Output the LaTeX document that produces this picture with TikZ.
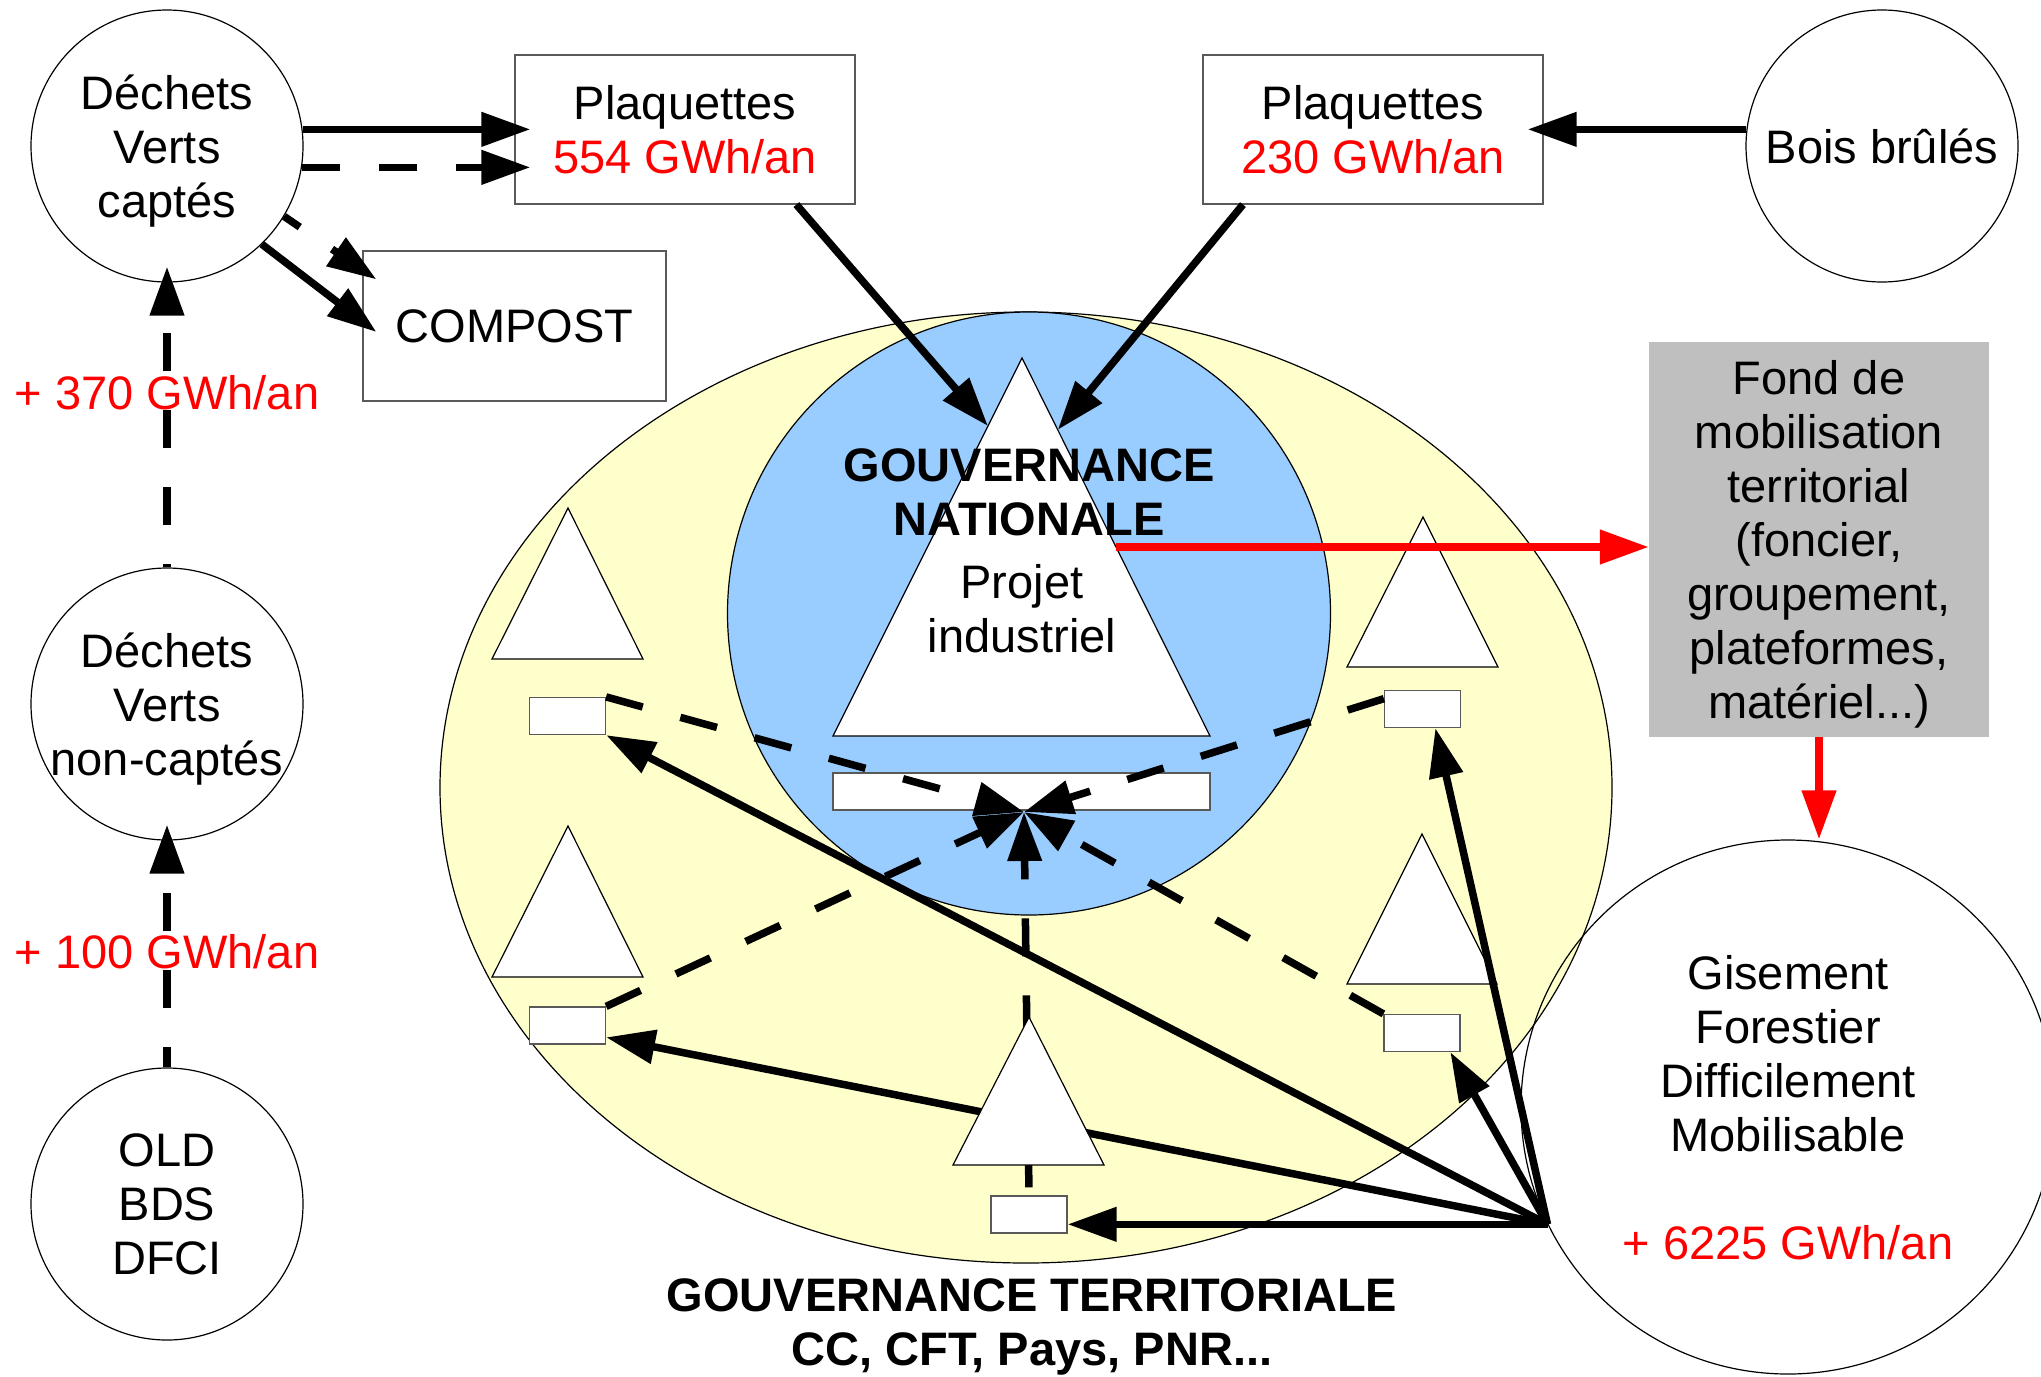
\documentclass[tikz,border=0pt]{standalone}
\usepackage{fontspec}
\setmainfont{Liberation Sans}
\usepackage{tikz}
\usetikzlibrary{shapes.geometric, arrows.meta, calc}
\definecolor{jaune}{RGB}{255,255,204}
\definecolor{bleu}{RGB}{153,204,255}
\definecolor{gris}{RGB}{191,191,191}
\tikzstyle{rond} = [draw, circle, line width=1.2pt, minimum size=272pt, inner sep=0pt, align=center, text depth=0pt]
\tikzstyle{boite} = [draw=black!65, rectangle, line width=1.2pt, minimum width=340pt, minimum height=149pt, align=center]
\tikzstyle{bloc} = [draw=black!65, fill=white, rectangle, line width=1.2pt, minimum width=76pt, minimum height=37pt, inner sep=0pt]
\tikzstyle{tri} = [draw, fill=white, line width=1.2pt]
\tikzstyle{flux} = [->, line width=7.5pt]
\tikzstyle{tiret} = [flux, dash pattern=on 38pt off 39pt]
\tikzstyle{rouge} = [flux, red]
\tikzstyle{into} = [shorten >=-16pt]
\tikzstyle{gras} = [font=\fontsize{47}{54}\selectfont\bfseries, align=center]

\begin{document}
\begin{tikzpicture}[x=1pt, y=-1pt, >={Triangle[length=49pt,width=33pt]},
  every node/.style={font=\fontsize{47}{54}\selectfont}]
	\useasboundingbox (0,0) rectangle (2041,1376);
	\clip (0,0) rectangle (2041,1376);
	% We start with the two governance areas, everything else lies on them
	\node [draw, ellipse, fill=jaune, line width=1.2pt, minimum width=1172pt, minimum height=951pt, inner sep=0pt] (terr) at (1026,787.5) {};
	\node [draw, circle, fill=bleu, line width=1.2pt, minimum size=603pt, inner sep=0pt] (nat) at (1029,613.5) {};
	\coordinate (apex) at (1022,358);
	\coordinate (bl) at (833,736);
	\coordinate (br) at (1210,736);
	\draw [tri] (apex) -- (bl) -- (br) -- cycle;
	\node [bloc, minimum width=377pt] (barre) at (1021.5,791.5) {};
	\node [gras] (gnat) at (1029,492) {GOUVERNANCE\\NATIONALE};
	\node [align=center] (projet) at (1022,609) {Projet\\industriel};
	\draw [tri] (568,508) -- (492,659) -- (643,659) -- cycle;
	\draw [tri] (568,826) -- (492,977) -- (643,977) -- cycle;
	\draw [tri] (1423,517) -- (1347,667) -- (1498,667) -- cycle;
	\draw [tri] (1422,834) -- (1347,984) -- (1497,984) -- cycle;
	\node [bloc] (rLT) at (567.5,716) {};
	\node [bloc] (rLB) at (567.5,1025.5) {};
	\node [bloc] (rRT) at (1422.5,709) {};
	\node [bloc] (rRB) at (1422,1033) {};
	\node [bloc] (rB) at (1029,1214.5) {};
	\node [gras] (gterr) at (1032,1327) {GOUVERNANCE TERRITORIALE\\CC, CFT, Pays, PNR...};

	% Then the resources around
	\node [rond] (captes) at (167,146) {Déchets\\Verts\\captés};
	\node [rond, below of=captes, node distance=558pt] (noncaptes) {Déchets\\Verts\\non-captés};
	\node [rond, below of=noncaptes, node distance=500pt] (old) {OLD\\BDS\\DFCI};
	\node [rond] (bois) at (1882,146) {Bois brûlés};
	\node [boite] (plq1) at (685,129.5) {Plaquettes\\\textcolor{red}{554 GWh/an}};
	\node [boite] (plq2) at (1373,129.5) {Plaquettes\\\textcolor{red}{230 GWh/an}};
	\node [boite, minimum width=303pt, minimum height=150pt] (compost) at (514.5,326) {COMPOST};
	\node [fill=gris, minimum width=340pt, minimum height=395pt, align=center, text depth=0pt] (fond) at (1819,539.5)
		{Fond de\\mobilisation\\territorial\\(foncier,\\groupement,\\plateformes,\\matériel...)};
	\node [rond, minimum size=534pt] (gis) at (1788,1107)
		{Gisement\\Forestier\\Difficilement\\Mobilisable\\[54pt]\textcolor{red}{+ 6225 GWh/an}};
	\node [red] (g370) at (167,393) {+ 370 GWh/an};
	\node [red] (g100) at (167,952) {+ 100 GWh/an};

	% Flows of wood
	\draw [flux, into] (captes.7) -- (captes.7 -| plq1.west);
	\draw [tiret, into] (captes.-9) -- (captes.-9 -| plq1.west);
	\draw [tiret, dash phase=19pt] (captes.-31) -- ([shift={(14,29)}]compost.north west);
	\draw [flux] (captes.-46) -- ([shift={(14,6)}]compost.west);
	\draw [tiret, into, dash phase=35pt] (noncaptes.north) -- (captes.south);
	\draw [tiret, into, dash phase=18pt] (old.north) -- (noncaptes.south);
	\draw [flux, into] (bois.173) -- (bois.173 -| plq2.east);
	\draw [flux] (plq1.-34) -- ($(apex)!0.18!(bl)$);
	\draw [flux] (plq2.210) -- ($(apex)!0.19!(br)$);

	% The territories report to the industrial project
	\coordinate (hub) at (1024,812);
	\draw [tiret] (rLT.north east) -- (hub);
	\draw [tiret] (rLB.north east) -- (hub);
	\draw [tiret] (rRT.165) -- (hub);
	\draw [tiret] (rRB.north west) -- (hub);
	\draw [tiret, dash phase=69pt] (rB.north) -- (hub);

	% and the forest feeds every territory
	\coordinate (src) at (gis.206);
	\draw [flux] (src) -- (rLT.south east);
	\draw [flux] (src) -- (rLB.-17);
	\draw [flux] (src) -- (src -| rB.east);
	\draw [flux] (src) -- (rRB.-34);
	\draw [flux] (src) -- (rRT.-56);
	\draw [tri] (1029,1017) -- (953,1165) -- (1104,1165) -- cycle;

	% Funding loop
	\coordinate (rd) at ($(apex)!0.5!(br)$);
	\draw [rouge] (rd) -- (rd -| fond.west);
	\draw [rouge] (fond.south) -- (fond.south |- gis.north);
\end{tikzpicture}
\end{document}
